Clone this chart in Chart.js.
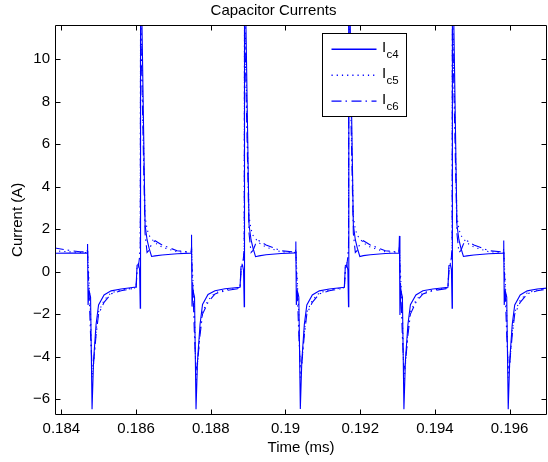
<!DOCTYPE html>
<html>
<head>
<meta charset="utf-8">
<script src="https://cdn.jsdelivr.net/npm/chart.js@4/dist/chart.umd.min.js"></script>
<style>
  html, body { margin: 0; padding: 0; background: #fff; }
  #wrap { width: 548px; height: 462px; }
</style>
</head>
<body>
<div id="wrap"><canvas id="c" width="548" height="462"></canvas></div>
<script>
// ---- data ----
const chartTitle = 'Capacitor Currents';
const xTitle = 'Time (ms)';
const yTitle = 'Current (A)';
const seriesSubscripts = ['c4', 'c5', 'c6'];

const xTickValues = [0.184, 0.186, 0.188, 0.190, 0.192, 0.194, 0.196];
const yTickValues = [-6, -4, -2, 0, 2, 4, 6, 8, 10];

const timeMs = [
  0.183800, 0.184200, 0.184500,
  0.184688, 0.184702, 0.184715, 0.184742, 0.184782, 0.184822, 0.184862, 0.184929, 0.184996, 0.185143, 0.185331, 0.185598, 0.186000,
  0.186027, 0.186067, 0.186094, 0.186112, 0.186120, 0.186241, 0.186294, 0.186348, 0.186415, 0.186509, 0.186696, 0.187097,
  0.187471, 0.187485, 0.187498, 0.187525, 0.187565, 0.187605, 0.187645, 0.187712, 0.187779, 0.187926, 0.188114, 0.188381, 0.188783,
  0.188810, 0.188850, 0.188877, 0.188895, 0.188903, 0.189024, 0.189077, 0.189131, 0.189198, 0.189292, 0.189479, 0.189880,
  0.190263, 0.190277, 0.190290, 0.190317, 0.190357, 0.190397, 0.190437, 0.190504, 0.190571, 0.190718, 0.190906, 0.191173, 0.191575,
  0.191602, 0.191642, 0.191669, 0.191687, 0.191695, 0.191816, 0.191869, 0.191923, 0.191990, 0.192084, 0.192271, 0.192672,
  0.193036, 0.193050, 0.193063, 0.193090, 0.193130, 0.193170, 0.193210, 0.193277, 0.193344, 0.193491, 0.193679, 0.193946, 0.194348,
  0.194375, 0.194415, 0.194442, 0.194460, 0.194468, 0.194589, 0.194642, 0.194696, 0.194763, 0.194857, 0.195044, 0.195445,
  0.195828, 0.195842, 0.195855, 0.195882, 0.195922, 0.195962, 0.196002, 0.196069, 0.196136, 0.196283, 0.196471, 0.196738,
  0.197050
];

const ic4 = [
  0.86, 0.87, 0.87,
  0.87, 1.30, -1.57, -0.90, -1.20, -6.48, -4.20, -2.50, -1.57, -1.10, -0.91, -0.82, -0.73,
  0.30, 0.35, 0.10, -1.72, 16, 2.20, 1.50, 1.10, 0.71, 0.74, 0.78, 0.84,
  0.87, 1.73, -1.65, -0.90, -1.20, -6.48, -4.20, -2.50, -1.55, -1.08, -0.90, -0.81, -0.74,
  0.24, 0.30, 0.05, -1.66, 16, 2.20, 1.50, 1.10, 0.70, 0.74, 0.79, 0.85,
  0.88, 1.41, -1.57, -0.90, -1.20, -6.47, -4.20, -2.50, -1.57, -1.10, -0.91, -0.82, -0.74,
  0.28, 0.32, 0.08, -1.65, 16, 2.20, 1.50, 1.10, 0.71, 0.75, 0.79, 0.85,
  0.87, 1.68, -2.04, -0.90, -1.20, -6.48, -4.20, -2.50, -1.56, -1.10, -0.90, -0.82, -0.74,
  0.28, 0.32, 0.08, -1.72, 16, 2.20, 1.50, 1.10, 0.71, 0.74, 0.78, 0.84,
  0.87, 1.46, -1.57, -0.90, -1.20, -6.48, -4.20, -2.50, -1.57, -1.10, -0.91, -0.82,
  -0.77
];

const ic5 = [
  0.98, 0.93, 0.90,
  0.90, 1.00, 0.50, -0.50, -2.00, -5.00, -4.40, -2.80, -1.90, -1.35, -1.00, -0.87, -0.76,
  0.20, 0.40, 0.60, 1.00, 13, 2.60, 2.00, 1.70, 1.55, 1.35, 1.15, 0.93,
  0.90, 1.10, 0.40, -0.50, -2.10, -5.20, -4.40, -2.80, -1.90, -1.35, -1.00, -0.87, -0.77,
  0.20, 0.40, 0.60, 1.00, 13, 2.60, 2.00, 1.70, 1.55, 1.35, 1.15, 0.93,
  0.90, 1.00, 0.50, -0.50, -2.00, -5.00, -4.40, -2.80, -1.90, -1.35, -1.00, -0.87, -0.76,
  0.20, 0.40, 0.60, 1.00, 13, 2.60, 2.00, 1.70, 1.55, 1.35, 1.15, 0.93,
  0.90, 1.10, 0.40, -0.50, -2.10, -5.20, -4.40, -2.80, -1.90, -1.35, -1.00, -0.87, -0.77,
  0.20, 0.40, 0.60, 1.00, 13, 2.60, 2.00, 1.70, 1.55, 1.35, 1.15, 0.93,
  0.90, 1.00, 0.50, -0.50, -2.00, -5.00, -4.40, -2.80, -1.90, -1.35, -1.00, -0.87,
  -0.80
];

const ic6 = [
  1.12, 1.00, 0.93,
  0.92, 1.10, 0.20, -1.00, -3.00, -4.50, -4.30, -3.00, -2.00, -1.45, -1.05, -0.90, -0.78,
  0.00, 0.30, 0.70, 1.20, 12, 1.80, 0.90, 1.00, 1.30, 1.45, 1.25, 0.98,
  0.92, 1.15, 0.10, -1.00, -3.10, -4.60, -4.30, -3.00, -2.00, -1.45, -1.05, -0.90, -0.79,
  0.00, 0.30, 0.70, 1.20, 12, 1.80, 0.90, 1.00, 1.30, 1.45, 1.25, 0.98,
  0.92, 1.10, 0.20, -1.00, -3.00, -4.50, -4.30, -3.00, -2.00, -1.45, -1.05, -0.90, -0.78,
  0.00, 0.30, 0.70, 1.20, 12, 1.80, 0.90, 1.00, 1.30, 1.45, 1.25, 0.98,
  0.92, 1.15, 0.10, -1.00, -3.10, -4.60, -4.30, -3.00, -2.00, -1.45, -1.05, -0.90, -0.79,
  0.00, 0.30, 0.70, 1.20, 12, 1.80, 0.90, 1.00, 1.30, 1.45, 1.25, 0.98,
  0.92, 1.10, 0.20, -1.00, -3.00, -4.50, -4.30, -3.00, -2.00, -1.45, -1.05, -0.90,
  -0.82
];

// ---- styling ----
const FONT = "'Liberation Sans', Arial, Helvetica, sans-serif";
const BLUE = '#0000ff';
const LINE_W = 1.1;
const dashes = [[], [1.2, 4], [10, 4, 1.5, 4.5]];

function pts(values) {
  return timeMs.map((t, i) => ({ x: t, y: values[i] }));
}

function fmt(v) {
  const s = parseFloat(Number(v).toFixed(4)).toString();
  return s.replace('-', '\u2212');
}

// MATLAB-like box with inward ticks
const boxPlugin = {
  id: 'matlabBox',
  afterDatasetsDraw(chart) {
    const ctx = chart.ctx;
    const a = chart.chartArea;
    const xs = chart.scales.x, ys = chart.scales.y;
    const L = Math.round(a.left) + 0.5, R = Math.round(a.right) - 0.5;
    const T = Math.round(a.top) + 0.5, B = Math.round(a.bottom) - 0.5;
    ctx.save();
    ctx.strokeStyle = '#000';
    ctx.lineWidth = 1;
    ctx.setLineDash([]);
    ctx.beginPath();
    ctx.rect(L, T, R - L, B - T);
    xs.ticks.forEach(tk => {
      const px = Math.round(xs.getPixelForValue(tk.value)) + 0.5;
      ctx.moveTo(px, B); ctx.lineTo(px, B - 5);
      ctx.moveTo(px, T); ctx.lineTo(px, T + 5);
    });
    ys.ticks.forEach(tk => {
      const py = Math.round(ys.getPixelForValue(tk.value)) + 0.5;
      ctx.moveTo(L, py); ctx.lineTo(L + 5, py);
      ctx.moveTo(R, py); ctx.lineTo(R - 5, py);
    });
    ctx.stroke();
    ctx.restore();
  }
};

const legendPlugin = {
  id: 'matlabLegend',
  afterDraw(chart) {
    const ctx = chart.ctx;
    const a = chart.chartArea;
    const bx = Math.round(a.left + 267) + 0.5;
    const by = Math.round(a.top + 7.5) + 0.5;
    const bw = 84, bh = 83;
    ctx.save();
    ctx.fillStyle = '#fff';
    ctx.fillRect(bx, by, bw, bh);
    ctx.strokeStyle = '#000';
    ctx.lineWidth = 1;
    ctx.setLineDash([]);
    ctx.strokeRect(bx, by, bw, bh);
    for (let i = 0; i < seriesSubscripts.length; i++) {
      const ly = by + 15.8 + i * 25.9;
      ctx.beginPath();
      ctx.strokeStyle = BLUE;
      ctx.lineWidth = 1.4;
      ctx.setLineDash(dashes[i]);
      ctx.moveTo(bx + 9, ly);
      ctx.lineTo(bx + 54, ly);
      ctx.stroke();
      ctx.setLineDash([]);
      ctx.fillStyle = '#000';
      ctx.textBaseline = 'alphabetic';
      ctx.textAlign = 'left';
      ctx.font = '15px ' + FONT;
      ctx.fillText('I', bx + 59.5, ly + 2.5);
      ctx.font = '11.5px ' + FONT;
      ctx.fillText(seriesSubscripts[i], bx + 64, ly + 9);
    }
    ctx.restore();
  }
};

new Chart(document.getElementById('c'), {
  type: 'line',
  data: {
    datasets: [ic4, ic5, ic6].map((vals, i) => ({
      label: 'I' + seriesSubscripts[i],
      data: pts(vals),
      borderColor: BLUE,
      borderWidth: LINE_W,
      borderDash: dashes[i],
      pointRadius: 0,
      tension: 0,
      fill: false
    }))
  },
  options: {
    responsive: false,
    animation: false,
    devicePixelRatio: 1,
    layout: { padding: { left: 0, right: 1, top: 0, bottom: 0 } },
    plugins: {
      legend: { display: false },
      tooltip: { enabled: false },
      title: {
        display: true,
        text: chartTitle,
        color: '#000',
        font: { family: FONT, size: 15, weight: 'normal' },
        padding: { top: 2, bottom: 5 }
      }
    },
    scales: {
      x: {
        type: 'linear',
        min: 0.18383,
        max: 0.19700,
        afterBuildTicks: s => { s.ticks = xTickValues.map(v => ({ value: v })); },
        afterFit: s => { s.height = 47.3; },
        grid: { display: false, drawTicks: false },
        border: { display: false },
        ticks: {
          color: '#000',
          font: { family: FONT, size: 15 },
          padding: 5,
          maxRotation: 0,
          autoSkip: false,
          callback: v => fmt(v)
        },
        title: {
          display: true,
          text: xTitle,
          color: '#000',
          font: { family: FONT, size: 15 },
          padding: { top: 0, bottom: 5 }
        }
      },
      y: {
        type: 'linear',
        min: -6.74,
        max: 11.61,
        afterBuildTicks: s => { s.ticks = yTickValues.map(v => ({ value: v })); },
        afterFit: s => { s.width = 55; },
        grid: { display: false, drawTicks: false },
        border: { display: false },
        ticks: {
          color: '#000',
          font: { family: FONT, size: 15 },
          padding: 5,
          autoSkip: false,
          callback: v => fmt(v)
        },
        title: {
          display: true,
          text: yTitle,
          color: '#000',
          font: { family: FONT, size: 15 },
          padding: { top: 9, bottom: 0 }
        }
      }
    }
  },
  plugins: [boxPlugin, legendPlugin]
});
</script>
</body>
</html>
